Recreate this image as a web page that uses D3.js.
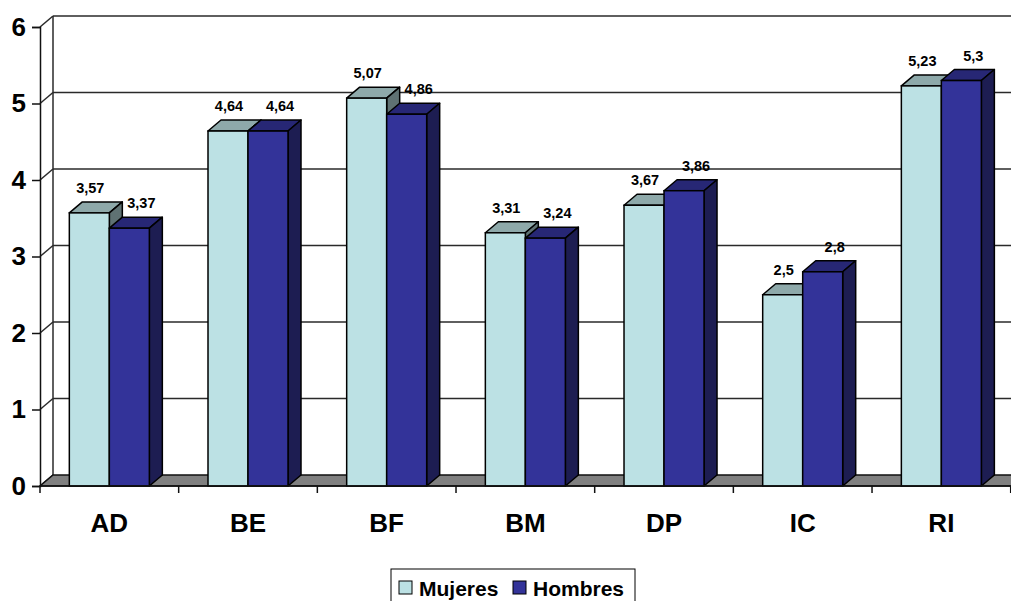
<!DOCTYPE html>
<html>
<head>
<meta charset="utf-8">
<script src="https://cdn.jsdelivr.net/npm/d3@7"></script>
<style>
  html, body { margin: 0; padding: 0; background: #ffffff; }
  svg { display: block; font-family: Arial, "Liberation Sans", Helvetica, sans-serif; }
</style>
</head>
<body>
<svg id="chart" width="1011" height="601"></svg>
<script>
// Chart data
const categories = ["AD", "BE", "BF", "BM", "DP", "IC", "RI"];
const seriesNames = ["Mujeres", "Hombres"];
const mujeres = [3.57, 4.64, 5.07, 3.31, 3.67, 2.5, 5.23];
const hombres = [3.37, 4.64, 4.86, 3.24, 3.86, 2.8, 5.3];
const yTicks = [0, 1, 2, 3, 4, 5, 6];

// Face colours per series: front, top, side
const palette = {
  Mujeres: { front: "#bce1e4", top: "#8ea9aa", side: "#5f7273" },
  Hombres: { front: "#333399", top: "#272775", side: "#1d1d52" }
};

const svg = d3.select("#chart");
const W = 1011, H = 601;

// Depth offset of the 3D box (back wall relative to front plane)
const DX = 13, DY = -11;

const y = d3.scaleLinear().domain([0, 6]).range([486, 27]);
const x0 = d3.scaleBand().domain(categories).range([40, 1010.7]).padding(0);
const x1 = d3.scaleBand().domain(seriesNames).range([0, x0.bandwidth()])
  .paddingInner(0).paddingOuter(0.7333);

const spanish = d3.formatLocale({ decimal: ",", thousands: ".", grouping: [3], currency: ["", " €"] });
const fmt = spanish.format("~g");

const xLeft = x0.range()[0];
const xRight = x0.range()[1];

// Back wall gridlines
const back = svg.append("g");
back.selectAll("line.grid")
  .data(yTicks.filter(v => v > 0))
  .join("line")
  .attr("x1", xLeft + DX).attr("x2", W + 20)
  .attr("y1", d => y(d) + DY).attr("y2", d => y(d) + DY)
  .attr("stroke", "#2a2a2a").attr("stroke-width", 1.5);

// Left side wall: edges and diagonal gridlines
back.append("line")
  .attr("x1", xLeft + DX).attr("x2", xLeft + DX)
  .attr("y1", y(0) + DY).attr("y2", y(6) + DY)
  .attr("stroke", "#2a2a2a").attr("stroke-width", 1.5);
back.selectAll("line.diag")
  .data(yTicks)
  .join("line")
  .attr("x1", xLeft).attr("x2", xLeft + DX)
  .attr("y1", d => y(d)).attr("y2", d => y(d) + DY)
  .attr("stroke", "#2a2a2a").attr("stroke-width", 1.5);

// Floor
back.append("polygon")
  .attr("points", [
    [xLeft, y(0)], [xRight, y(0)], [xRight + DX, y(0) + DY], [xLeft + DX, y(0) + DY]
  ].map(p => p.join(",")).join(" "))
  .attr("fill", "#808080").attr("stroke", "#111").attr("stroke-width", 1.5);

// Bars
const rows = categories.map((c, i) => ({
  category: c,
  values: [
    { series: "Mujeres", value: mujeres[i] },
    { series: "Hombres", value: hombres[i] }
  ]
}));

const barW = x1.bandwidth();
const groups = svg.append("g").selectAll("g.cat")
  .data(rows)
  .join("g")
  .attr("transform", d => `translate(${x0(d.category)},0)`);

const bars = groups.selectAll("g.bar")
  .data(d => d.values)
  .join("g");

function pts(arr) { return arr.map(p => p.join(",")).join(" "); }

bars.append("polygon") // top face
  .attr("points", d => {
    const l = x1(d.series), r = l + barW, t = y(d.value);
    return pts([[l, t], [r, t], [r + DX, t + DY], [l + DX, t + DY]]);
  })
  .attr("fill", d => palette[d.series].top)
  .attr("stroke", "#000").attr("stroke-width", 1.5).attr("stroke-linejoin", "round");

bars.append("polygon") // side face
  .attr("points", d => {
    const r = x1(d.series) + barW, t = y(d.value), b = y(0);
    return pts([[r, t], [r + DX, t + DY], [r + DX, b + DY], [r, b]]);
  })
  .attr("fill", d => palette[d.series].side)
  .attr("stroke", "#000").attr("stroke-width", 1.5).attr("stroke-linejoin", "round");

bars.append("rect") // front face
  .attr("x", d => x1(d.series))
  .attr("y", d => y(d.value))
  .attr("width", barW)
  .attr("height", d => y(0) - y(d.value))
  .attr("fill", d => palette[d.series].front)
  .attr("stroke", "#000").attr("stroke-width", 1.5);

// Value labels
bars.append("text")
  .attr("x", d => x1(d.series) + barW / 2 + (d.series === "Mujeres" ? 1 : 12))
  .attr("y", d => y(d.value) - 20)
  .attr("text-anchor", "middle")
  .attr("font-size", 14.5).attr("font-weight", "bold").attr("fill", "#000")
  .text(d => fmt(d.value));

// Y axis
const yAxis = d3.axisLeft(y).tickValues(yTicks).tickSize(8).tickPadding(6).tickFormat(d3.format("d"));
const gy = svg.append("g").attr("transform", `translate(${xLeft},0)`).call(yAxis);
gy.select(".domain").attr("stroke", "#111").attr("stroke-width", 1.5);
gy.selectAll(".tick line").attr("stroke", "#111").attr("stroke-width", 1.5);
gy.selectAll(".tick text")
  .attr("font-size", 26).attr("font-weight", "bold").attr("fill", "#000")
  .attr("font-family", "Arial, 'Liberation Sans', sans-serif");

// X axis (category boundaries as ticks)
const bounds = categories.map(c => x0(c)).concat([xRight]);
const gx = svg.append("g");
gx.append("line")
  .attr("x1", xLeft).attr("x2", xRight).attr("y1", y(0)).attr("y2", y(0))
  .attr("stroke", "#111").attr("stroke-width", 1.5);
gx.selectAll("line.tk")
  .data(bounds)
  .join("line")
  .attr("x1", d => d).attr("x2", d => d)
  .attr("y1", y(0)).attr("y2", y(0) + 7)
  .attr("stroke", "#111").attr("stroke-width", 1.5);
gx.selectAll("text")
  .data(categories)
  .join("text")
  .attr("x", d => x0(d) + x0.bandwidth() / 2)
  .attr("y", 532)
  .attr("text-anchor", "middle")
  .attr("font-size", 26).attr("font-weight", "bold").attr("fill", "#000")
  .text(d => d);

// Legend
const legend = svg.append("g");
legend.append("rect")
  .attr("x", 391).attr("y", 569).attr("width", 244).attr("height", 45)
  .attr("fill", "#fff").attr("stroke", "#000").attr("stroke-width", 1);
const items = legend.selectAll("g.item")
  .data(seriesNames)
  .join("g")
  .attr("transform", (d, i) => `translate(${i === 0 ? 399 : 513},581)`);
items.append("rect")
  .attr("width", 13).attr("height", 13)
  .attr("fill", d => palette[d].front)
  .attr("stroke", "#000").attr("stroke-width", 1);
items.append("text")
  .attr("x", 20).attr("y", 15)
  .attr("font-size", 21).attr("font-weight", "bold").attr("fill", "#000")
  .text(d => d);
</script>
</body>
</html>
